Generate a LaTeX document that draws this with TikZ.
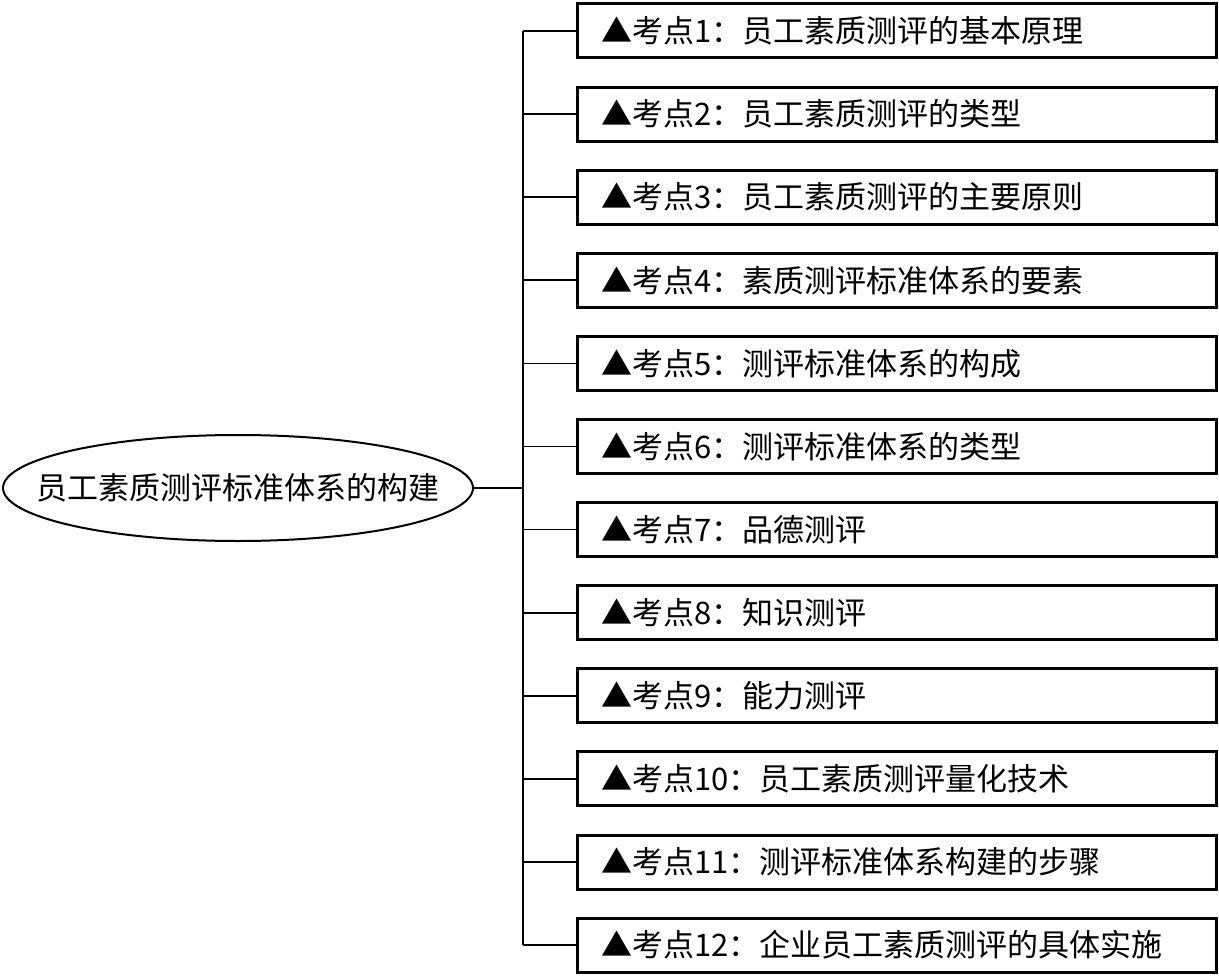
\documentclass[tikz,border=0pt]{standalone}
\usepackage{fontspec}
\setmainfont{Noto Sans CJK SC}
\usetikzlibrary{shapes.geometric, positioning}

\begin{document}
\begin{tikzpicture}[
        x=0.5pt, y=-0.5pt,
        kd/.style={draw, line width=1.5pt, minimum width=319.5pt, minimum height=27pt, text width=295pt, inner xsep=12pt, align=left, font=\fontsize{15.5}{18}\selectfont},
        topic/.style={draw, ellipse, line width=1pt, minimum width=235pt, minimum height=53pt, inner sep=0pt, font=\fontsize{15.5}{18}\selectfont},
        link/.style={line width=0.8pt}
    ]
        \useasboundingbox (0,0) rectangle (1219,978);
        \node[topic] (root) at (238,488) {\makebox[0pt]{员工素质测评标准体系的构建}};
        \coordinate (tr) at (523,488);

        \foreach \i/\txt in {1/员工素质测评的基本原理, 2/员工素质测评的类型, 3/员工素质测评的主要原则, 4/素质测评标准体系的要素, 5/测评标准体系的构成, 6/测评标准体系的类型, 7/品德测评, 8/知识测评, 9/能力测评, 10/员工素质测评量化技术, 11/测评标准体系构建的步骤, 12/企业员工素质测评的具体实施} {
            \node[kd] (k\i) at (896.5, 31+83.1*\i-83.1) {▲考点\i：\txt};
            \draw[link] (k\i.west) -- (k\i.west -| tr);
        }

        \draw[link] (k1.west -| tr) -- (k12.west -| tr);
        \draw[link] (root.east) -- (tr);
    \end{tikzpicture}
\end{document}
